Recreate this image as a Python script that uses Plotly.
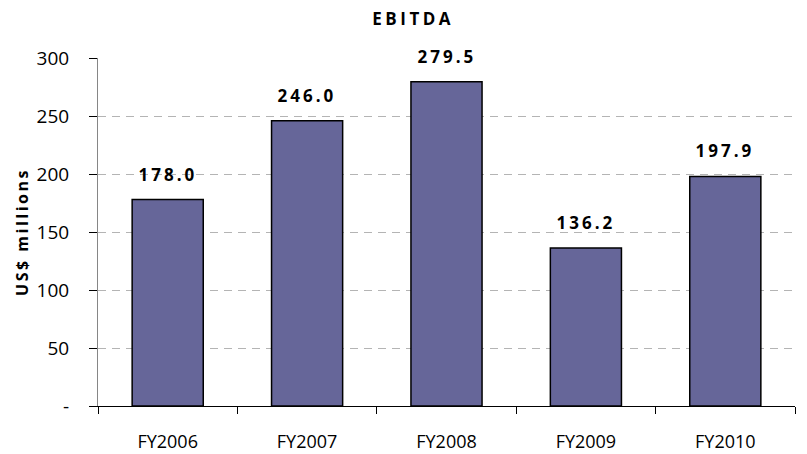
import plotly.graph_objects as go

years = ["FY2006", "FY2007", "FY2008", "FY2009", "FY2010"]
ebitda = [178.0, 246.0, 279.5, 136.2, 197.9]
y_ticks = [0, 50, 100, 150, 200, 250, 300]
y_tick_text = ["-", "50", "100", "150", "200", "250", "300"]

BAR_COLOR = "#666699"
FONT = "Open Sans"

fig = go.Figure(
    go.Bar(
        x=years,
        y=ebitda,
        width=0.51,
        marker=dict(color=BAR_COLOR, line=dict(color="#000000", width=1.5)),
        hoverinfo="x+y",
    )
)

# value labels sitting above each bar
for yr, val in zip(years, ebitda):
    fig.add_annotation(
        x=yr, y=val, text=f"<b>{val:.1f}</b>",
        showarrow=False, yanchor="bottom", yshift=12,
        font=dict(family=FONT, size=17, color="#000000"),
    )

fig.update_layout(
    width=807,
    height=454,
    margin=dict(l=98, r=12, t=58, b=48),
    paper_bgcolor="white",
    plot_bgcolor="white",
    showlegend=False,
    title=dict(
        text="<b>EBITDA</b>",
        x=0.512, xanchor="center", y=0.958, yanchor="middle",
        font=dict(family=FONT, size=17, color="#000000"),
    ),
    font=dict(family=FONT, color="#000000"),
)

fig.update_xaxes(
    type="category",
    automargin=False,
    showline=True, linecolor="#000000", linewidth=1,
    ticks="outside", tickson="boundaries", ticklen=7, tickcolor="#000000",
    tickfont=dict(size=18),
    ticklabelstandoff=19,
    showgrid=False,
)
fig.update_yaxes(
    range=[0, 300],
    automargin=False,
    tickvals=y_ticks, ticktext=y_tick_text,
    showline=True, linecolor="#868686", linewidth=1,
    ticks="outside", ticklen=8, tickcolor="#000000",
    tickfont=dict(size=19),
    ticklabelstandoff=16,
    showgrid=True, gridcolor="#b4b4b4", griddash="8px,6px", gridwidth=1,
    zeroline=False,
    title=dict(text="<b>US$ millions</b>", font=dict(size=16), standoff=4),
)

# widen the tracking of the bold labels
spacing_js = """
var gd = document.getElementById('{plot_id}');
function track() {
  gd.querySelectorAll('.annotation-text').forEach(function(t){ t.style.letterSpacing = '3px'; });
  gd.querySelectorAll('.gtitle').forEach(function(t){ t.style.letterSpacing = '3.5px'; });
  gd.querySelectorAll('.ytitle').forEach(function(t){ t.style.letterSpacing = '2.5px'; });
}
track();
gd.on('plotly_afterplot', track);
"""

fig.write_html("out.html", post_script=spacing_js)
